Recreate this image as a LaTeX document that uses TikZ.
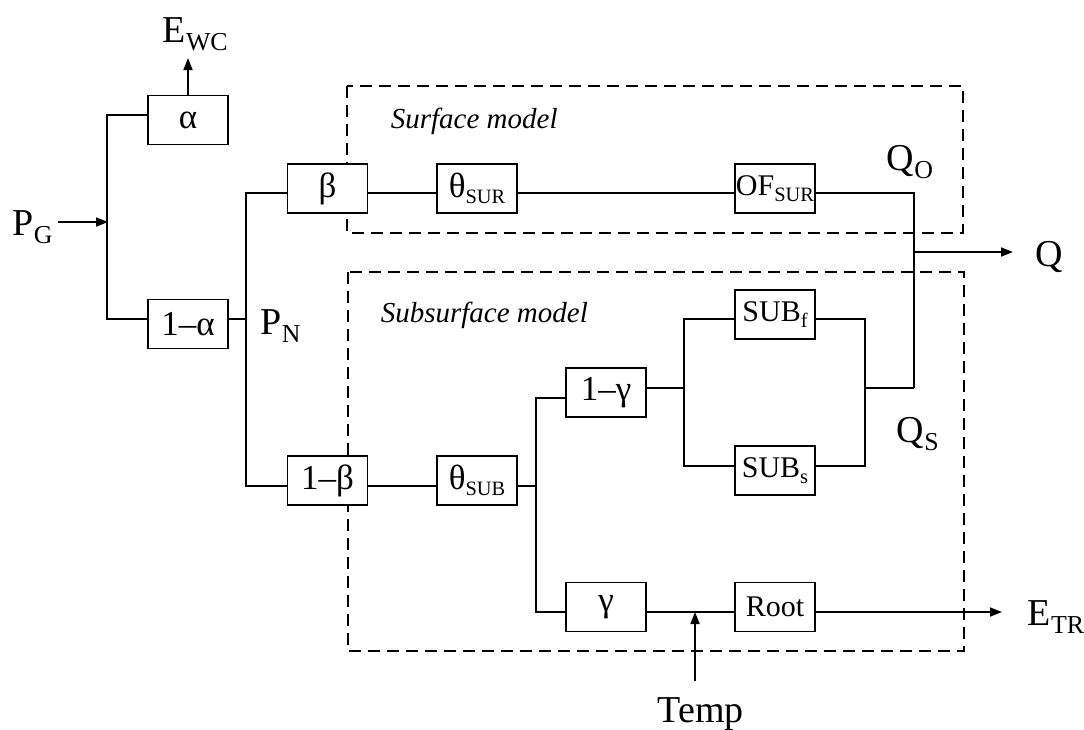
\documentclass[tikz,border=0pt]{standalone}
\usepackage{fontspec}
\setmainfont{Liberation Serif}
\usetikzlibrary{arrows.meta,calc}
\newcommand{\sbs}[1]{\raisebox{-0.22em}{\scalebox{0.68}{#1}}}
\newcommand{\gk}[1]{{\fontsize{35}{35}\selectfont #1}}
\begin{document}
\begin{tikzpicture}[x=1pt,y=-1pt,line width=1.7pt,
  blk/.style={draw,fill=white,minimum width=80pt,minimum height=49pt,inner sep=0pt,font=\fontsize{30}{30}\selectfont},
  lbl/.style={inner sep=0pt,anchor=base west,font=\fontsize{38}{38}\selectfont},
  ital/.style={inner sep=0pt,anchor=base west,font=\fontsize{29}{29}\selectfont\itshape},
  region/.style={draw,dash pattern=on 12pt off 7pt,line width=1.3pt},
  arr/.style={-{Triangle[length=12pt,width=9pt]}}]
\useasboundingbox (0,0) rectangle (1084,729);
% model regions
\draw[region] (347,86) rectangle (963,233);
\draw[region] (348,272) rectangle (964,651);
% coordinates
\coordinate (pgo) at (58,222);
\coordinate (ja) at (108,222);
\coordinate (ewctip) at (188,58);
\coordinate (pnj) at (247,319);
\coordinate (thj) at (537,486);
\coordinate (gj) at (685,388);
\coordinate (sj) at (864,388);
\coordinate (qa) at (914,388);
\coordinate (qj) at (914,252);
\coordinate (qtip) at (1013,252);
\coordinate (tempo) at (695,681);
\coordinate (tempj) at (695,612);
\coordinate (etrtip) at (1002,612);
% blocks
\node[blk] (alpha) at (188,120) {\gk{α}};
\node[blk] (oma) at (188,324) {\gk{1–α}};
\node[blk] (beta) at (327.5,188.5) {\gk{β}};
\node[blk] (thsur) at (477,188.5) {\gk{θ}\sbs{SUR}};
\node[blk] (ofsur) at (775,188.5) {OF\sbs{SUR}};
\node[blk] (omb) at (327.5,480.5) {\gk{1–β}};
\node[blk] (thsub) at (477,480.5) {\gk{θ}\sbs{SUB}};
\node[blk] (omg) at (606,392.5) {\gk{1–γ}};
\node[blk] (subf) at (775,314.5) {SUB\sbs{f}};
\node[blk] (subs) at (775,470.5) {SUB\sbs{s}};
\node[blk] (gam) at (606,607) {\gk{γ}};
\node[blk] (root) at (775,607) {Root};
% labels
\node[lbl] (pg) at (12,235) {P\sbs{G}};
\node[lbl] (ewc) at (162,42) {E\sbs{WC}};
\node[lbl] (pn) at (260,334) {P\sbs{N}};
\node[lbl] (qo) at (886,170) {Q\sbs{O}};
\node[lbl] (q) at (1035,266) {Q};
\node[lbl] (qs) at (896,442) {Q\sbs{S}};
\node[lbl] (etr) at (1027,625) {E\sbs{TR}};
\node[lbl] (temp) at (657,722) {Temp};
\node[ital] (surf) at (390,128) {Surface model};
\node[ital] (subsurf) at (380,322) {Subsurface model};
% connectors
\draw[arr] (pgo) -- (ja);
\draw ([yshift=5pt]alpha.west) -- ++(-40,0) -- ([xshift=-40pt,yshift=5pt]oma.west) -- ([yshift=5pt]oma.west);
\draw[arr] (alpha.north) -- (ewctip);
\draw ([yshift=5pt]oma.east) -- (pnj);
\draw ([yshift=-4.5pt]beta.west) -- ++(-40.5,0) -- ([xshift=-40.5pt,yshift=-5.5pt]omb.west) -- ([yshift=-5.5pt]omb.west);
\draw ([yshift=-4.5pt]beta.east) -- ([yshift=-4.5pt]thsur.west);
\draw ([yshift=-4.5pt]thsur.east) -- ([yshift=-4.5pt]ofsur.west);
\draw ([yshift=-4.5pt]ofsur.east) -| (qa);
\draw[arr] (qj) -- (qtip);
\draw ([yshift=-5.5pt]omb.east) -- ([yshift=-5.5pt]thsub.west);
\draw ([yshift=-5.5pt]thsub.east) -- (thj);
\draw ([yshift=-5.5pt]omg.west) -- ++(-29,0) -- ([xshift=-29pt,yshift=-5pt]gam.west) -- ([yshift=-5pt]gam.west);
\draw ([yshift=4.5pt]omg.east) -- (gj);
\draw ([yshift=-4.5pt]subf.west) -- ++(-50,0) -- ([xshift=-50pt,yshift=4.5pt]subs.west) -- ([yshift=4.5pt]subs.west);
\draw ([yshift=-4.5pt]subf.east) -- ++(49,0) -- ([xshift=49pt,yshift=4.5pt]subs.east) -- ([yshift=4.5pt]subs.east);
\draw (sj) -- (qa);
\draw ([yshift=-5pt]gam.east) -- ([yshift=-5pt]root.west);
\draw[arr] (tempo) -- (tempj);
\draw[arr] ([yshift=-5pt]root.east) -- (etrtip);
\end{tikzpicture}
\end{document}
